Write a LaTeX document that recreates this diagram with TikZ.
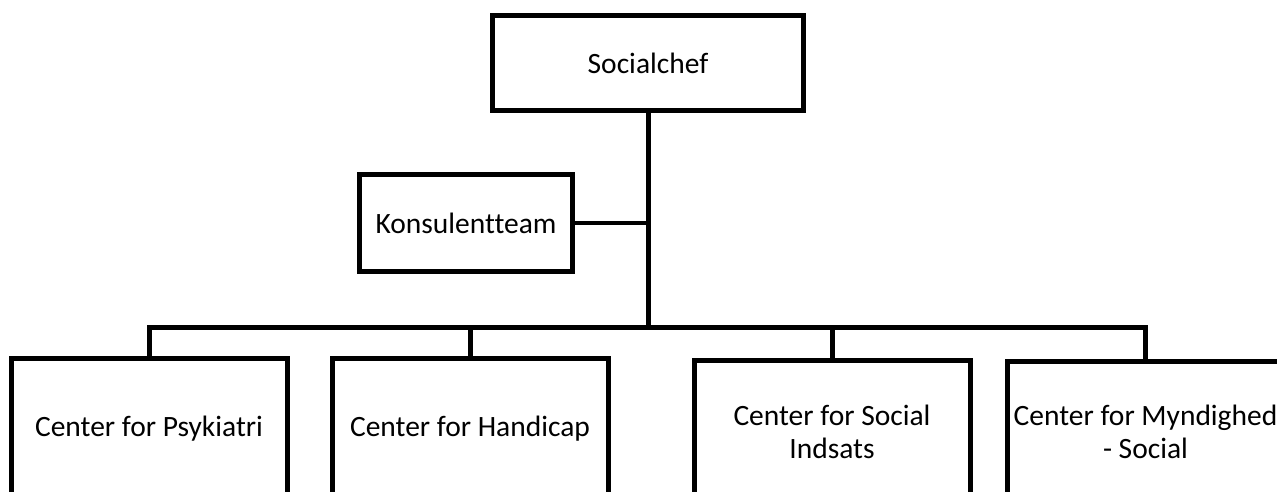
\documentclass[tikz,border=0pt]{standalone}
\usepackage{fontspec}
\setmainfont{Carlito}[Ligatures=NoCommon]
\tikzstyle{unit}=[rectangle,draw=black!100,line width=5pt,align=center,inner sep=0pt,font=\fontsize{29.5}{33}\selectfont]
\tikzstyle{center}=[unit,anchor=north,minimum width=276pt,minimum height=142pt]
\tikzstyle{link}=[draw=black!100,line width=5pt,line join=miter]

\begin{document}
\begin{tikzpicture}[x=1pt,y=-1pt]
                    \useasboundingbox (0,0) rectangle (1277,492);

                    \node (chef) at (648,63) [unit,minimum width=311.5pt,minimum height=95pt] {Socialchef};
                    \node (team) at (466,223) [unit,minimum width=213.5pt,minimum height=97pt] {Konsulentteam};
                    \node (psyk) at (149,355.5) [center] {Center for Psykiatri};
                    \node (handicap) at (470,355.5) [center] {Center for Handicap};
                    \node (indsats) at (832,358) [center] {Center for Social\\Indsats};
                    \node (myndighed) at (1145.5,358.5) [center] {Center for Myndighed\\- Social};
                    \coordinate (bus) at (648,327.5);

                    \draw [link] (chef.south) -- (bus);
                    \draw [link,line width=4pt] (team.east) -- (team.east -| bus);
                    \draw [link] (psyk.north) |- (myndighed.north |- bus) -- (myndighed.north);
                    \draw [link] (handicap.north) -- (handicap.north |- bus);
                    \draw [link] (indsats.north) -- (indsats.north |- bus);
                \end{tikzpicture}
\end{document}
